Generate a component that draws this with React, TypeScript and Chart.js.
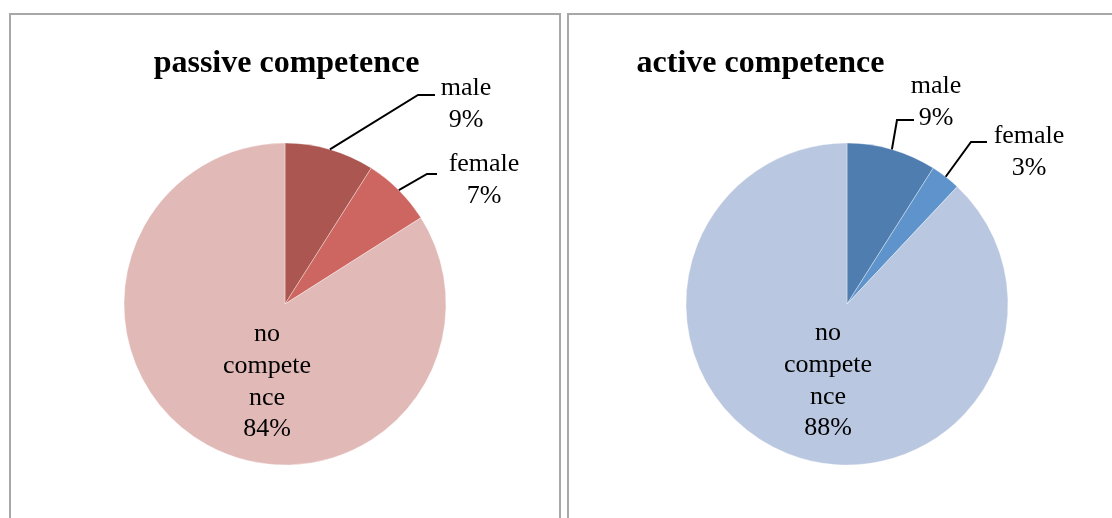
import React, { useEffect, useRef } from 'react';
import { Chart, registerables } from 'chart.js';

Chart.register(...registerables);

// ---- data ----
const categories = ['male', 'female', 'no competence'];
const categoryLines = [['male'], ['female'], ['no', 'compete', 'nce']];
const passiveValues = [9, 7, 84];
const activeValues = [9, 3, 88];
const chartTitles = ['passive competence', 'active competence'];

// ---- styles / layout ----
const passiveColors = ['#AB5651', '#CD6660', '#E1B9B7'];
const activeColors = ['#4F7DAF', '#5E94CB', '#B9C7E0'];
const FONT = '"Liberation Serif", "Times New Roman", serif';

type LabelPos = { elbow?: [number, number]; end?: [number, number]; textX: number; baseY: number };

const passiveLabelPos: LabelPos[] = [
  { elbow: [133, -209], end: [150, -209], textX: 181, baseY: -209 },
  { elbow: [142, -130], end: [152, -130], textX: 199, baseY: -133 },
  { textX: -18, baseY: 37 },
];
const activeLabelPos: LabelPos[] = [
  { elbow: [50, -184], end: [67, -184], textX: 89, baseY: -211 },
  { elbow: [124, -162], end: [140, -162], textX: 182, baseY: -161 },
  { textX: -19, baseY: 36 },
];

function makeDecorPlugin(title: string, titleX: number, titleY: number, labels: LabelPos[]) {
  return {
    id: 'pieDecor',
    afterDraw(chart: any) {
      const ctx: CanvasRenderingContext2D = chart.ctx;
      const meta = chart.getDatasetMeta(0);
      const data = chart.data.datasets[0].data as number[];
      const total = data.reduce((a, b) => a + b, 0);
      ctx.save();
      ctx.fillStyle = '#000';
      ctx.textAlign = 'center';
      ctx.textBaseline = 'alphabetic';
      ctx.font = `bold 32px ${FONT}`;
      ctx.fillText(title, titleX, titleY);

      meta.data.forEach((arc: any, i: number) => {
        const p = arc.getProps(['x', 'y', 'startAngle', 'endAngle', 'outerRadius'], true);
        const pos = labels[i];
        const mid = (p.startAngle + p.endAngle) / 2;
        if (pos.elbow && pos.end) {
          const sx = p.x + Math.cos(mid) * p.outerRadius;
          const sy = p.y + Math.sin(mid) * p.outerRadius;
          ctx.beginPath();
          ctx.strokeStyle = '#000';
          ctx.lineWidth = 2;
          ctx.moveTo(sx, sy);
          ctx.lineTo(p.x + pos.elbow[0], p.y + pos.elbow[1]);
          ctx.lineTo(p.x + pos.end[0], p.y + pos.end[1]);
          ctx.stroke();
        }
        const pct = Math.round((data[i] / total) * 100) + '%';
        const lines = [...categoryLines[i], pct];
        ctx.font = `26px ${FONT}`;
        lines.forEach((t, k) => {
          ctx.fillText(t, p.x + pos.textX, p.y + pos.baseY + k * 31.8);
        });
      });
      ctx.restore();
    },
  };
}

type PanelProps = {
  values: number[];
  colors: string[];
  title: string;
  titleX: number;
  labels: LabelPos[];
  panelLeft: number;
  panelWidth: number;
  canvasW: number;
  padLeft: number;
  padRight: number;
};

function PiePanel(props: PanelProps) {
  const ref = useRef<HTMLCanvasElement | null>(null);
  useEffect(() => {
    if (!ref.current) return;
    const chart = new Chart(ref.current, {
      type: 'pie',
      data: {
        labels: categories,
        datasets: [
          {
            data: props.values,
            backgroundColor: props.colors,
            borderColor: 'rgba(255,255,255,0.35)',
            borderWidth: 1,
          },
        ],
      },
      options: {
        responsive: false,
        animation: false,
        devicePixelRatio: 1,
        layout: {
          padding: { left: props.padLeft, right: props.padRight, top: 127.5, bottom: 52.5 },
        },
        plugins: {
          legend: { display: false },
          tooltip: { enabled: false },
          title: { display: false },
        },
      },
      plugins: [makeDecorPlugin(props.title, props.titleX, 57, props.labels)],
    });
    return () => chart.destroy();
  }, []);

  return (
    <div
      style={{
        position: 'absolute',
        left: props.panelLeft,
        top: 13,
        width: props.panelWidth,
        height: 600,
        boxSizing: 'border-box',
        border: '2px solid #A8A8A8',
        background: '#fff',
      }}
    >
      <canvas
        ref={ref}
        width={props.canvasW}
        height={503}
        style={{ position: 'absolute', left: 0, top: 0, width: props.canvasW, height: 503 }}
      />
    </div>
  );
}

export default function App() {
  return (
    <div
      style={{
        position: 'fixed',
        left: 0,
        top: 0,
        width: 1112,
        height: 518,
        overflow: 'hidden',
        background: '#fff',
      }}
    >
      <PiePanel
        values={passiveValues}
        colors={passiveColors}
        title={chartTitles[0]}
        titleX={275.5}
        labels={passiveLabelPos}
        panelLeft={9}
        panelWidth={552}
        canvasW={548}
        padLeft={112.5}
        padRight={112.5}
      />
      <PiePanel
        values={activeValues}
        colors={activeColors}
        title={chartTitles[1]}
        titleX={191.5}
        labels={activeLabelPos}
        panelLeft={567}
        panelWidth={600}
        canvasW={543}
        padLeft={116.5}
        padRight={103.5}
      />
    </div>
  );
}
